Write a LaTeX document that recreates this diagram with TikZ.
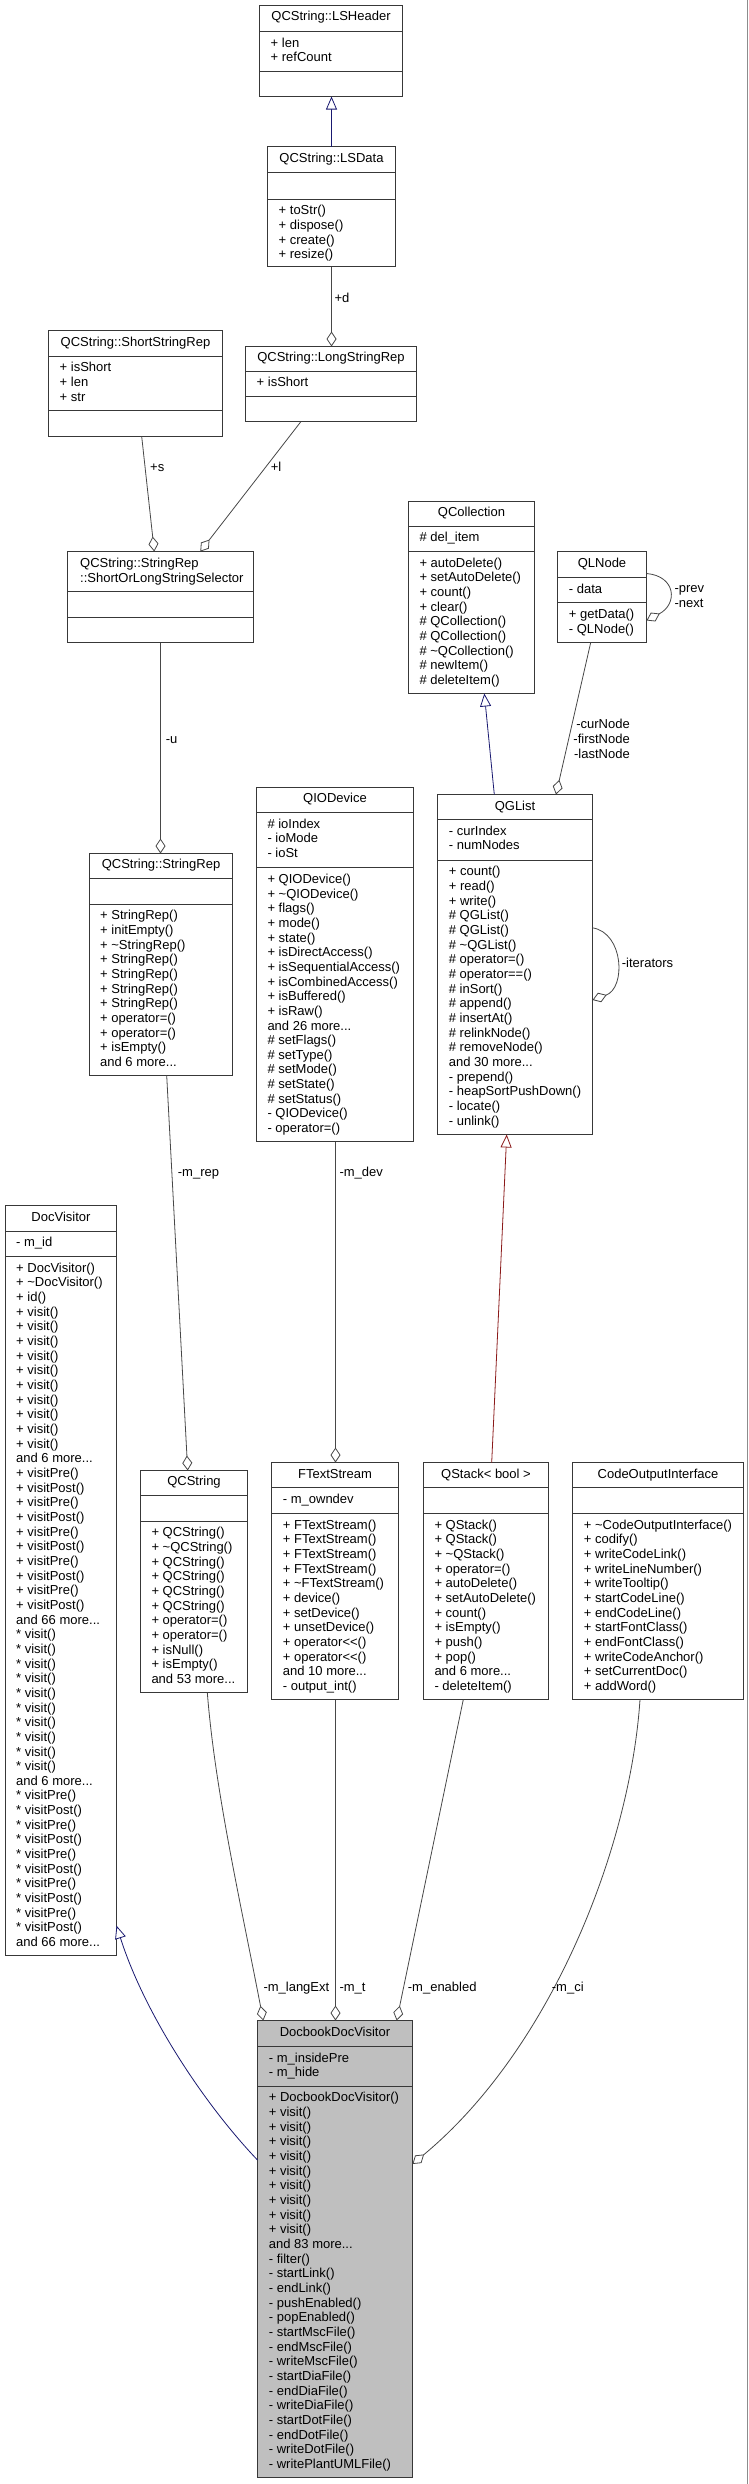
\documentclass[tikz,border=0pt]{standalone}
\usepackage{fontspec}
\setmainfont{Liberation Sans}
\usetikzlibrary{arrows.meta,calc,fit}
\definecolor{navy}{HTML}{191970}
\definecolor{fb}{HTML}{8B1A1A}
\definecolor{boxfill}{HTML}{BFBFBF}
\newcommand\andmore[1]{and #1 more...}
\newcommand\tld{\textasciitilde}
\newcommand\umlbox[8]{%
  \node[box,#1,fit={(#3,#5) (#4,#8)}] (#2) {};
  \draw[boxline] (#3,#6) -- (#4,#6);
  \draw[boxline] (#3,#7) -- (#4,#7);
}
\newcommand\umltitle[5]{%
  \node[ttl] (#1-title) at ({(#2+#3)/2},{#4+15.7}) {#5};}
\newcommand\umllines[4]{%
  \foreach \s [count=\i] in {#4} {\node[txt] (#1-\i) at ({#2+11},{#3+15.7+(\i-1)*14.66}) {\s};}}
\begin{document}
\begin{tikzpicture}[x=1pt,y=-1pt,
  box/.style={draw=black!78,line width=1.2pt,inner sep=0pt,outer sep=0pt,fill=white},
  boxline/.style={draw=black!78,line width=1.2pt},
  txt/.style={anchor=base west,inner sep=0pt,font=\fontsize{13}{15}\selectfont},
  ttl/.style={anchor=base,inner sep=0pt,font=\fontsize{13}{15}\selectfont},
  lbl/.style={txt},
  lblr/.style={anchor=base east,inner sep=0pt,font=\fontsize{13}{15}\selectfont},
  usage/.style={draw=black!72,line width=0.8pt,-{Diamond[fill=white,length=15pt,width=10pt]}},
  inh/.style={draw=navy,line width=0.8pt,-{Triangle[fill=white,length=13pt,width=11pt]}},
  inhred/.style={draw=fb,line width=0.8pt,-{Triangle[fill=white,length=13pt,width=11pt]}}]
\useasboundingbox (0,0) rectangle (749,2484);
\draw[black!45,line width=1pt] (747.5,0) -- (747.5,2484);

% QCString::LSHeader
\umlbox{}{lsh}{259.5}{402.5}{5.5}{31.5}{71.5}{96.5}
\umltitle{lsh}{259.5}{402.5}{5}{QCString::LSHeader}
\umllines{lsh-a}{259.5}{31.5}{+ len, + refCount}

% QCString::LSData
\umlbox{}{lsd}{267.5}{395.5}{146.5}{172.5}{199.5}{266.5}
\umltitle{lsd}{267.5}{395.5}{146.7}{QCString::LSData}
\umllines{lsd-m}{267.5}{199}{+ toStr(), + dispose(), + create(), + resize()}

% QCString::LongStringRep
\umlbox{}{lsr}{245.5}{416.5}{346.5}{371.5}{396.5}{421.5}
\umltitle{lsr}{245.5}{416.5}{346}{QCString::LongStringRep}
\umllines{lsr-a}{245.5}{371}{+ isShort}

% QCString::ShortStringRep
\umlbox{}{ssr}{48.5}{222.5}{330.5}{356.5}{410.5}{436.5}
\umltitle{ssr}{48.5}{222.5}{330.7}{QCString::ShortStringRep}
\umllines{ssr-a}{48.5}{356}{+ isShort, + len, + str}

% Selector
\umlbox{}{sel}{67.5}{253.5}{551.5}{591.5}{617.5}{642.5}
\node[txt] (sel-title1) at (80,567.3) {QCString::StringRep};
\node[txt] (sel-title2) at (80,582) {::ShortOrLongStringSelector};

% QCString::StringRep
\umlbox{}{srep}{89.5}{232.5}{853.5}{878.5}{904.5}{1075.5}
\umltitle{srep}{89.5}{232.5}{853.1}{QCString::StringRep}
\umllines{srep-m}{89}{904.1}{+ StringRep(), + initEmpty(), + \tld StringRep(), + StringRep(), + StringRep(), + StringRep(), + StringRep(), + operator=(), + operator=(), + isEmpty(), \andmore{6}}

% QIODevice
\umlbox{}{qio}{256.5}{413.5}{787.5}{812.5}{867.5}{1141.5}
\umltitle{qio}{256.5}{413.5}{787}{QIODevice}
\umllines{qio-a}{256.3}{812.4}{\# ioIndex, - ioMode, - ioSt}
\umllines{qio-m}{256.3}{867.7}{+ QIODevice(), + \tld QIODevice(), + flags(), + mode(), + state(), + isDirectAccess(), + isSequentialAccess(), + isCombinedAccess(), + isBuffered(), + isRaw(), \andmore{26}, \# setFlags(), \# setType(), \# setMode(), \# setState(), \# setStatus(), - QIODevice(), - operator=()}

% QCollection
\umlbox{}{qcol}{408.5}{534.5}{501.5}{526.5}{551.5}{693.5}
\umltitle{qcol}{408.5}{534.5}{501}{QCollection}
\umllines{qcol-a}{408.3}{526.2}{\# del\_item}
\umllines{qcol-m}{408.3}{551.4}{+ autoDelete(), + setAutoDelete(), + count(), + clear(), \# QCollection(), \# QCollection(), \# \tld QCollection(), \# newItem(), \# deleteItem()}

% QLNode
\umlbox{}{qln}{557.5}{646.5}{551.5}{577.5}{602.5}{642.5}
\umltitle{qln}{557.5}{646.5}{551.4}{QLNode}
\umllines{qln-a}{557.7}{577.5}{- data}
\umllines{qln-m}{557.7}{602.8}{+ getData(), - QLNode()}

% QGList
\umlbox{}{qgl}{437.5}{592.5}{794.5}{819.5}{860.5}{1134.5}
\umltitle{qgl}{437.5}{592.5}{794.6}{QGList}
\umllines{qgl-a}{437.7}{819.5}{- curIndex, - numNodes}
\umllines{qgl-m}{437.7}{860.2}{+ count(), + read(), + write(), \# QGList(), \# QGList(), \# \tld QGList(), \# operator=(), \# operator==(), \# inSort(), \# append(), \# insertAt(), \# relinkNode(), \# removeNode(), \andmore{30}, - prepend(), - heapSortPushDown(), - locate(), - unlink()}

% DocVisitor
\umlbox{}{dv}{5.5}{116.5}{1205.5}{1231.5}{1256.5}{1955.5}
\umltitle{dv}{5.5}{116.5}{1205.4}{DocVisitor}
\umllines{dv-a}{5}{1231}{- m\_id}
\umllines{dv-m}{5}{1256.5}{+ DocVisitor(), + \tld DocVisitor(), + id(), + visit(), + visit(), + visit(), + visit(), + visit(), + visit(), + visit(), + visit(), + visit(), + visit(), \andmore{6}, + visitPre(), + visitPost(), + visitPre(), + visitPost(), + visitPre(), + visitPost(), + visitPre(), + visitPost(), + visitPre(), + visitPost(), \andmore{66}, * visit(), * visit(), * visit(), * visit(), * visit(), * visit(), * visit(), * visit(), * visit(), * visit(), \andmore{6}, * visitPre(), * visitPost(), * visitPre(), * visitPost(), * visitPre(), * visitPost(), * visitPre(), * visitPost(), * visitPre(), * visitPost(), \andmore{66}}

% QCString
\umlbox{}{qcs}{140.5}{247.5}{1470.5}{1495.5}{1521.5}{1692.5}
\umltitle{qcs}{140.5}{247.5}{1470}{QCString}
\umllines{qcs-m}{140.3}{1521}{+ QCString(), + \tld QCString(), + QCString(), + QCString(), + QCString(), + QCString(), + operator=(), + operator=(), + isNull(), + isEmpty(), \andmore{53}}

% FTextStream
\umlbox{}{fts}{271.5}{398.5}{1462.5}{1487.5}{1513.5}{1699.5}
\umltitle{fts}{271.5}{398.5}{1462.4}{FTextStream}
\umllines{fts-a}{271.7}{1487.9}{- m\_owndev}
\umllines{fts-m}{271.7}{1513.5}{+ FTextStream(), + FTextStream(), + FTextStream(), + FTextStream(), + \tld FTextStream(), + device(), + setDevice(), + unsetDevice(), + operator<{}<(), + operator<{}<(), \andmore{10}, - output\_int()}

% QStack< bool >
\umlbox{}{qst}{423.5}{548.5}{1462.5}{1487.5}{1513.5}{1699.5}
\umltitle{qst}{423.5}{548.5}{1462.4}{QStack< bool >}
\umllines{qst-m}{423.3}{1513.5}{+ QStack(), + QStack(), + \tld QStack(), + operator=(), + autoDelete(), + setAutoDelete(), + count(), + isEmpty(), + push(), + pop(), \andmore{6}, - deleteItem()}

% CodeOutputInterface
\umlbox{}{coi}{572.5}{743.5}{1462.5}{1487.5}{1513.5}{1699.5}
\umltitle{coi}{572.5}{743.5}{1462.4}{CodeOutputInterface}
\umllines{coi-m}{572.7}{1513.5}{+ \tld CodeOutputInterface(), + codify(), + writeCodeLink(), + writeLineNumber(), + writeTooltip(), + startCodeLine(), + endCodeLine(), + startFontClass(), + endFontClass(), + writeCodeAnchor(), + setCurrentDoc(), + addWord()}

% DocbookDocVisitor
\umlbox{fill=boxfill}{ddv}{257.5}{412.5}{2020.5}{2046.5}{2086.5}{2477.5}
\umltitle{ddv}{257.5}{412.5}{2020.3}{DocbookDocVisitor}
\umllines{ddv-a}{257.7}{2046.3}{- m\_insidePre, - m\_hide}
\umllines{ddv-m}{257.7}{2086.1}{+ DocbookDocVisitor(), + visit(), + visit(), + visit(), + visit(), + visit(), + visit(), + visit(), + visit(), + visit(), \andmore{83}, - filter(), - startLink(), - endLink(), - pushEnabled(), - popEnabled(), - startMscFile(), - endMscFile(), - writeMscFile(), - startDiaFile(), - endDiaFile(), - writeDiaFile(), - startDotFile(), - endDotFile(), - writeDotFile(), - writePlantUMLFile()}

% ---- connectors ----
\draw[inh] ($(lsd.north west)+(64,0)$) -- ($(lsh.south west)+(72,0)$);
\draw[usage] ($(lsd.south west)+(64,0)$) -- ($(lsr.north west)+(86,0)$);
\node[lbl] (l-d) at (334.3,302.5) {+d};
\draw[usage] ($(ssr.south west)+(93.2,0)$) -- ($(sel.north west)+(86.8,0)$);
\node[lbl] (l-s) at (150,471.8) {+s};
\draw[usage] ($(lsr.south west)+(55.5,0)$) -- ($(sel.north west)+(132.8,0)$);
\node[lbl] (l-l) at (270.7,471.8) {+l};
\draw[usage] ($(sel.south west)+(93,0)$) -- ($(srep.north west)+(71,0)$);
\node[lbl] (l-u) at (165.7,743.6) {-u};

\draw[inh] ($(qgl.north west)+(56.8,0)$) -- ($(qcol.south west)+(75.8,0)$);
\draw[usage] ($(qln.south west)+(33.2,0)$) -- ($(qgl.north west)+(118.5,0)$);
\node[lblr] (l-cur) at (630,728.2) {-curNode};
\node[lblr] (l-first) at (630,743.2) {-firstNode};
\node[lblr] (l-last) at (630,758.2) {-lastNode};
\draw[usage] ($(qln.north east)+(0,22)$) .. controls (676,576) and (678,604) .. ($(qln.north east)+(0,69)$);
\node[lbl] (l-prev) at (674.3,592.6) {-prev};
\node[lbl] (l-next) at (674.3,607.6) {-next};
\draw[usage] ($(qgl.north east)+(0,133.3)$) .. controls (624,933) and (626,988) .. ($(qgl.north east)+(0,205.5)$);
\node[lbl] (l-it) at (621.7,967.4) {-iterators};

\draw[usage] ($(srep.south west)+(77.2,0)$) -- ($(qcs.north west)+(47.2,0)$);
\node[lbl] (l-rep) at (177.7,1176.7) {-m\_rep};
\draw[usage] ($(qio.south west)+(79,0)$) -- ($(fts.north west)+(64,0)$);
\node[lbl] (l-dev) at (339.3,1176.7) {-m\_dev};
\draw[inhred] ($(qst.north west)+(68.2,0)$) -- ($(qgl.south west)+(69.2,0)$);

\draw[inh] ($(ddv.north west)+(0,139.5)$) .. controls (205,2105) and (145,2015) .. ($(dv.north east)+(0,720.1)$);
\draw[usage] ($(qcs.south west)+(66.8,0)$) .. controls (215,1790) and (240,1900) .. ($(ddv.north west)+(5.8,0)$);
\node[lbl] (l-lang) at (263.3,1991.6) {-m\_langExt};
\draw[usage] ($(fts.south west)+(64,0)$) -- ($(ddv.north west)+(78,0)$);
\node[lbl] (l-t) at (339.3,1991.6) {-m\_t};
\draw[usage] ($(qst.south west)+(39.8,0)$) -- ($(ddv.north west)+(139.2,0)$);
\node[lbl] (l-en) at (407.7,1991.6) {-m\_enabled};
\draw[usage] ($(coi.south west)+(67.5,0)$) .. controls (630,1850) and (550,2050) .. ($(ddv.north east)+(0,143.5)$);
\node[lbl] (l-ci) at (551.7,1991.6) {-m\_ci};
\end{tikzpicture}
\end{document}
